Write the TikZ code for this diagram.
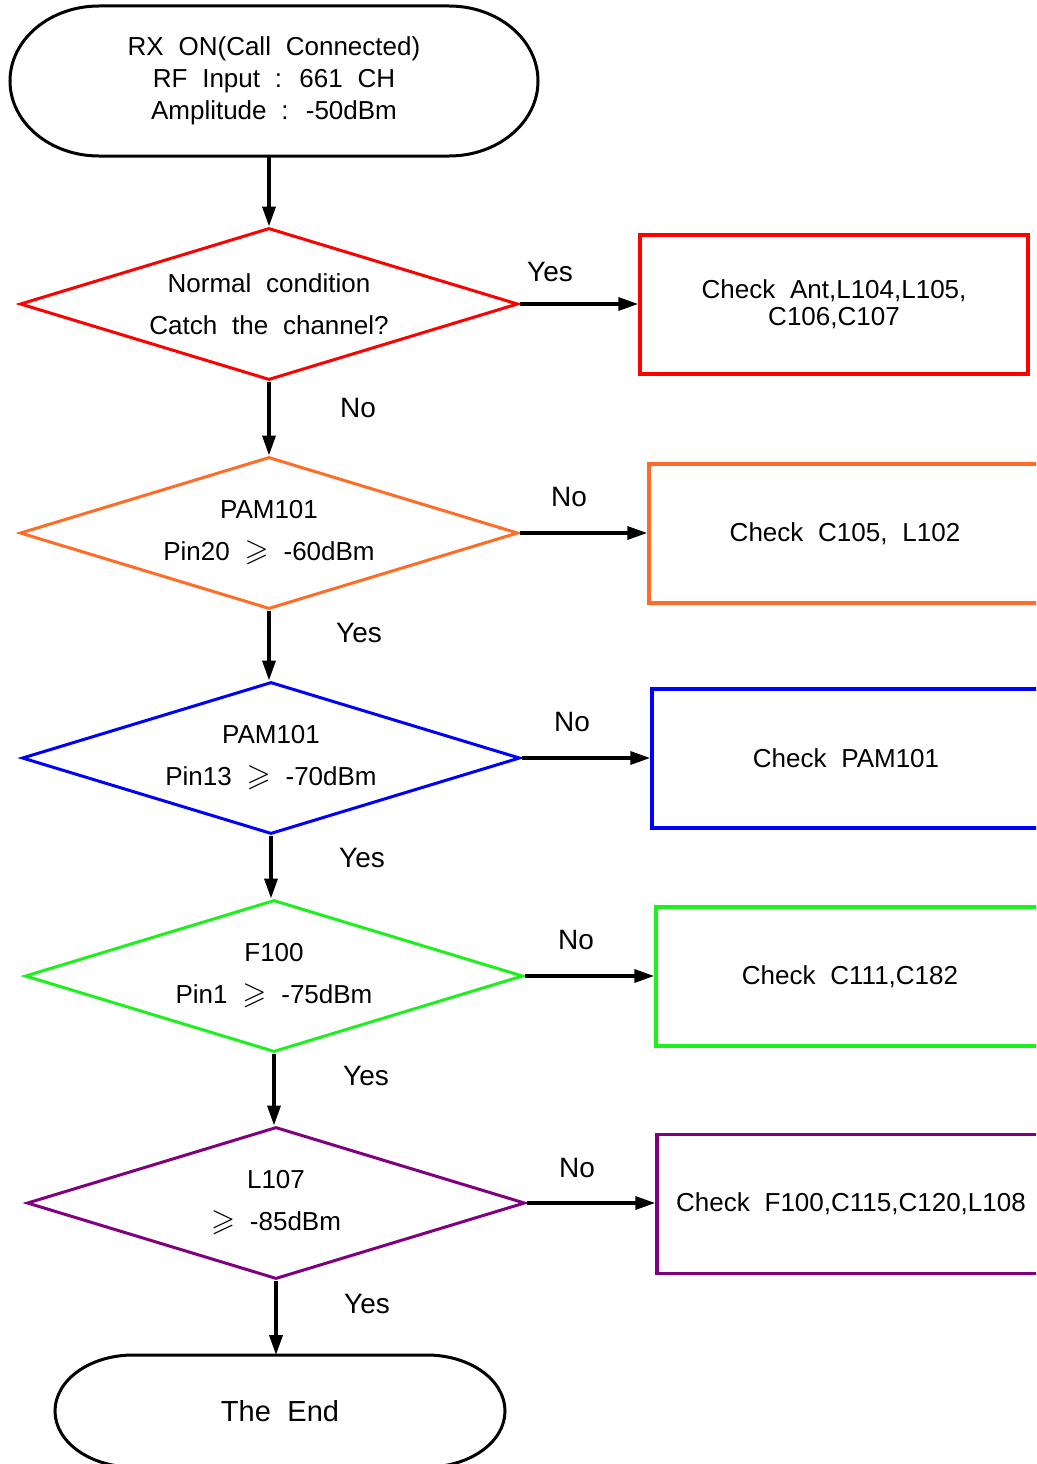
\documentclass[tikz,border=0pt]{standalone}
\usepackage{amssymb}
\usepackage{fontspec}
\setmainfont[WordSpace=2.05]{Liberation Sans}
\usetikzlibrary{arrows.meta, positioning, shapes.geometric}
\definecolor{chkred}{RGB}{255,0,0}
\definecolor{chkorange}{RGB}{255,108,40}
\definecolor{chkblue}{RGB}{0,0,255}
\definecolor{chkgreen}{RGB}{30,240,30}
\definecolor{chkpurple}{RGB}{128,0,128}
\newcommand{\atleast}{{\fontsize{31}{31}\selectfont$\geqslant$}}

\begin{document}
\begin{tikzpicture}[x=1pt, y=-1pt,
  term/.style={minimum width=#1, inner sep=0pt, outer sep=0pt, align=center},
  cond/.style={draw=#1, line width=3pt, shape=diamond, aspect=3.28, inner sep=0pt,
    minimum width=498pt, minimum height=152pt, align=center, font=\fontsize{26}{42}\selectfont},
  chk/.style={draw=#1, line width=3.5pt, minimum width=388pt, minimum height=139pt,
    inner sep=0pt, align=center, font=\fontsize{26}{27}\selectfont},
  lbl/.style={font=\fontsize{28}{28}\selectfont},
  flow/.style={line width=3.5pt, -{Triangle[length=20pt, width=13pt]}}]
  \useasboundingbox (0,0) rectangle (1036,1464);
  \clip (0,0) rectangle (1036,1464);

  % start / end
  \node[term=528pt, minimum height=150pt, font=\fontsize{26}{32}\selectfont] (start) at (274,81)
    {RX ON(Call Connected)\\RF Input : 661 CH\\Amplitude : -50dBm};
  \draw[line width=3pt] ([xshift=89pt]start.north west) -- ([xshift=-89pt]start.north east)
    arc[start angle=90, end angle=-90, x radius=89pt, y radius=75pt]
    -- ([xshift=89pt]start.south west)
    arc[start angle=270, end angle=90, x radius=89pt, y radius=75pt];
  \node[term=450pt, minimum height=112pt, font=\fontsize{29}{29}\selectfont] (stop) at (280,1411) {The End};
  \draw[line width=3pt] ([xshift=-78pt]stop.south east)
    arc[start angle=-90, end angle=90, x radius=78pt, y radius=56pt]
    -- ([xshift=78pt]stop.north west)
    arc[start angle=90, end angle=270, x radius=78pt, y radius=56pt];

  % checks
  \node[cond=chkred] (q1) at (269,304) {Normal condition\\Catch the channel?};
  \node[cond=chkorange] (q2) at (269,533) {PAM101\\Pin20 \atleast{} -60dBm};
  \node[cond=chkblue] (q3) at (271,758) {PAM101\\Pin13 \atleast{} -70dBm};
  \node[cond=chkgreen] (q4) at (274,976) {F100\\Pin1 \atleast{} -75dBm};
  \node[cond=chkpurple] (q5) at (276,1203) {L107\\\atleast{} -85dBm};

  \node[chk=chkred] (c1) at (834,304.5) {Check Ant,L104,L105,\\C106,C107};
  \node[chk=chkorange, minimum width=392pt] (c2) at (845,533.5) {Check C105, L102};
  \node[chk=chkblue] (c3) at (846,758.5) {Check PAM101};
  \node[chk=chkgreen] (c4) at (850,976.5) {Check C111,C182};
  \node[chk=chkpurple] (c5) at (851,1204) {Check F100,C115,C120,L108};

  \draw[flow] (q1.north |- start.south) -- (q1.north);
  \draw[flow] (q1.south) -- (q1.south |- q2.north);
  \draw[flow] (q2.south) -- (q2.south |- q3.north);
  \draw[flow] (q3.south) -- (q3.south |- q4.north);
  \draw[flow] (q4.south) -- (q4.south |- q5.north);
  \draw[flow] (q5.south) -- (q5.south |- stop.north);
  \draw[flow] (q1.east) -- (q1.east -| c1.west);
  \draw[flow] (q2.east) -- (q2.east -| c2.west);
  \draw[flow] (q3.east) -- (q3.east -| c3.west);
  \draw[flow] (q4.east) -- (q4.east -| c4.west);
  \draw[flow] (q5.east) -- (q5.east -| c5.west);

  \node[lbl] (y1) at (550,272) {Yes};
  \node[lbl] (n1) at (358,408) {No};
  \node[lbl] (n2) at (569,497) {No};
  \node[lbl] (y2) at (359,633) {Yes};
  \node[lbl] (n3) at (572,722) {No};
  \node[lbl] (y3) at (362,858) {Yes};
  \node[lbl] (n4) at (576,940) {No};
  \node[lbl] (y4) at (366,1076) {Yes};
  \node[lbl] (n5) at (577,1168) {No};
  \node[lbl] (y5) at (367,1304) {Yes};
\end{tikzpicture}
\end{document}
